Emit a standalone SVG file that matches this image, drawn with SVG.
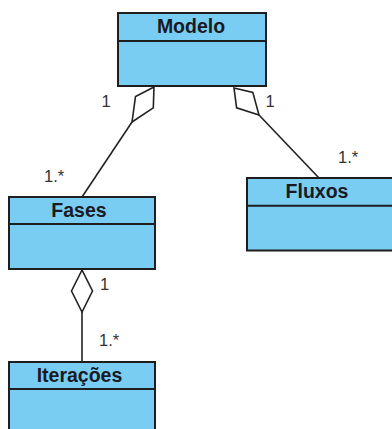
<svg xmlns="http://www.w3.org/2000/svg" width="392" height="429" viewBox="0 0 392 429">
  <style>
    .box { fill: #79cdf3; stroke: #1e1e1e; stroke-width: 2; }
    .div { stroke: #1e1e1e; stroke-width: 2; }
    .name { font-family: "Liberation Sans", Arial, sans-serif; font-weight: bold; font-size: 19.5px; fill: #1a1a24; text-anchor: middle; }
    .link { fill: none; stroke: #222; stroke-width: 1.6; }
    .agg { fill: #fff; stroke: #222; stroke-width: 1.6; stroke-linejoin: miter; }
    .mult { font-family: "Liberation Sans", Arial, sans-serif; font-size: 16.5px; fill: #333; }
  </style>
  <rect width="392" height="429" fill="#fff"/>

  <g id="connectors">
    <!-- Modelo to Fases -->
    <line class="link" x1="132" y1="122" x2="82" y2="197"/>
    <polygon class="agg" points="154,87 135.5,96.6 132,122 153.3,107.8"/>
    <text class="mult" x="101.5" y="107">1</text>
    <text class="mult" x="44" y="181.5">1.*</text>

    <!-- Modelo to Fluxos -->
    <line class="link" x1="259" y1="115" x2="319" y2="178"/>
    <polygon class="agg" points="234,88 252.8,92.4 259,115 236.6,107.8"/>
    <text class="mult" x="265.5" y="107">1</text>
    <text class="mult" x="338" y="162.5">1.*</text>

    <!-- Fases to Iterações -->
    <line class="link" x1="82" y1="312" x2="82" y2="362"/>
    <polygon class="agg" points="82,270 71.5,291 82,312 92.5,291"/>
    <text class="mult" x="100" y="290">1</text>
    <text class="mult" x="99" y="346">1.*</text>
  </g>

  <g id="modelo">
    <rect class="box" x="118" y="13" width="148" height="73"/>
    <line class="div" x1="118" y1="41" x2="266" y2="41"/>
    <text class="name" x="191" y="33.3">Modelo</text>
  </g>

  <g id="fases">
    <rect class="box" x="9" y="197" width="146" height="72"/>
    <line class="div" x1="9" y1="224" x2="155" y2="224"/>
    <text class="name" x="79" y="216.7">Fases</text>
  </g>

  <g id="fluxos">
    <rect class="box" x="247" y="178" width="146" height="72.5"/>
    <line class="div" x1="247" y1="205.7" x2="393" y2="205.7"/>
    <text class="name" x="317" y="198.3">Fluxos</text>
  </g>

  <g id="iteracoes">
    <rect class="box" x="9" y="362" width="146" height="80"/>
    <line class="div" x1="9" y1="389" x2="155" y2="389"/>
    <text class="name" x="79.5" y="382.3">Iterações</text>
  </g>
</svg>
